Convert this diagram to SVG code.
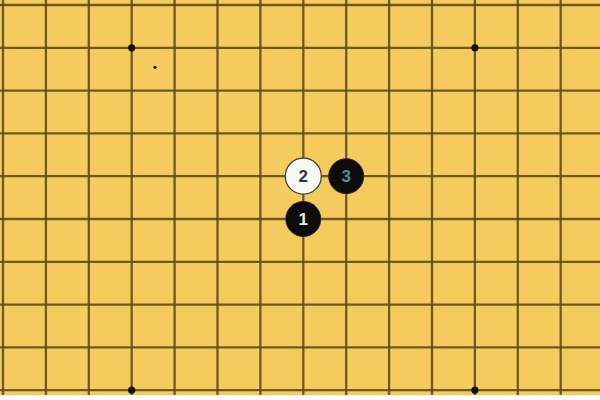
<svg xmlns="http://www.w3.org/2000/svg" width="600" height="400" viewBox="0 0 600 400">
  <style>
    .grid line { stroke: #5e4c1c; stroke-width: 2.3; stroke-opacity: 0.9; }
    .star { fill: #111; }
    .black { fill: #0c0c0c; stroke: #2a2a2a; stroke-width: 1; }
    .white { fill: #f8f8f4; stroke: #3a3a3a; stroke-width: 1.2; }
    .num { font-family: "Liberation Sans", Arial, sans-serif; font-size: 17px; font-weight: bold; text-anchor: middle; dominant-baseline: central; }
  </style>
  <rect x="0" y="0" width="600" height="400" fill="#ffffff"/>
  <rect id="board-bg" x="0" y="0" width="600" height="395" fill="#f6cb5e"/>
  <g id="grid" class="grid">
    <line x1="3" y1="0" x2="3" y2="395"/>
    <line x1="45.9" y1="0" x2="45.9" y2="395"/>
    <line x1="88.8" y1="0" x2="88.8" y2="395"/>
    <line x1="131.7" y1="0" x2="131.7" y2="395"/>
    <line x1="174.6" y1="0" x2="174.6" y2="395"/>
    <line x1="217.5" y1="0" x2="217.5" y2="395"/>
    <line x1="260.4" y1="0" x2="260.4" y2="395"/>
    <line x1="303.3" y1="0" x2="303.3" y2="395"/>
    <line x1="346.2" y1="0" x2="346.2" y2="395"/>
    <line x1="389.1" y1="0" x2="389.1" y2="395"/>
    <line x1="432" y1="0" x2="432" y2="395"/>
    <line x1="474.9" y1="0" x2="474.9" y2="395"/>
    <line x1="517.8" y1="0" x2="517.8" y2="395"/>
    <line x1="560.7" y1="0" x2="560.7" y2="395"/>
    <line x1="0" y1="5" x2="600" y2="5"/>
    <line x1="0" y1="47.8" x2="600" y2="47.8"/>
    <line x1="0" y1="90.6" x2="600" y2="90.6"/>
    <line x1="0" y1="133.4" x2="600" y2="133.4"/>
    <line x1="0" y1="176.2" x2="600" y2="176.2"/>
    <line x1="0" y1="219" x2="600" y2="219"/>
    <line x1="0" y1="261.8" x2="600" y2="261.8"/>
    <line x1="0" y1="304.6" x2="600" y2="304.6"/>
    <line x1="0" y1="347.4" x2="600" y2="347.4"/>
    <line x1="0" y1="390.2" x2="600" y2="390.2"/>
  </g>
  <g id="star-points">
    <circle class="star" cx="131.7" cy="47.8" r="3.6"/>
    <circle class="star" cx="474.9" cy="47.8" r="3.6"/>
    <circle class="star" cx="131.7" cy="390.2" r="3.6"/>
    <circle class="star" cx="474.9" cy="390.2" r="3.6"/>
    <circle class="star" cx="155" cy="67.3" r="1.6"/>
  </g>
  <g id="connectors"></g>
  <g id="stone-1">
    <circle class="black" cx="303.3" cy="219" r="17.5"/>
    <text class="num" x="303.3" y="219.5" fill="#e6ece8">1</text>
  </g>
  <g id="stone-2">
    <circle class="white" cx="303.3" cy="176.2" r="18"/>
    <text class="num" x="303.3" y="176.7" fill="#2e3438">2</text>
  </g>
  <g id="stone-3">
    <circle class="black" cx="346.2" cy="176.2" r="17.5"/>
    <text class="num" x="346.2" y="176.7" fill="#3a9a9e">3</text>
  </g>
</svg>
